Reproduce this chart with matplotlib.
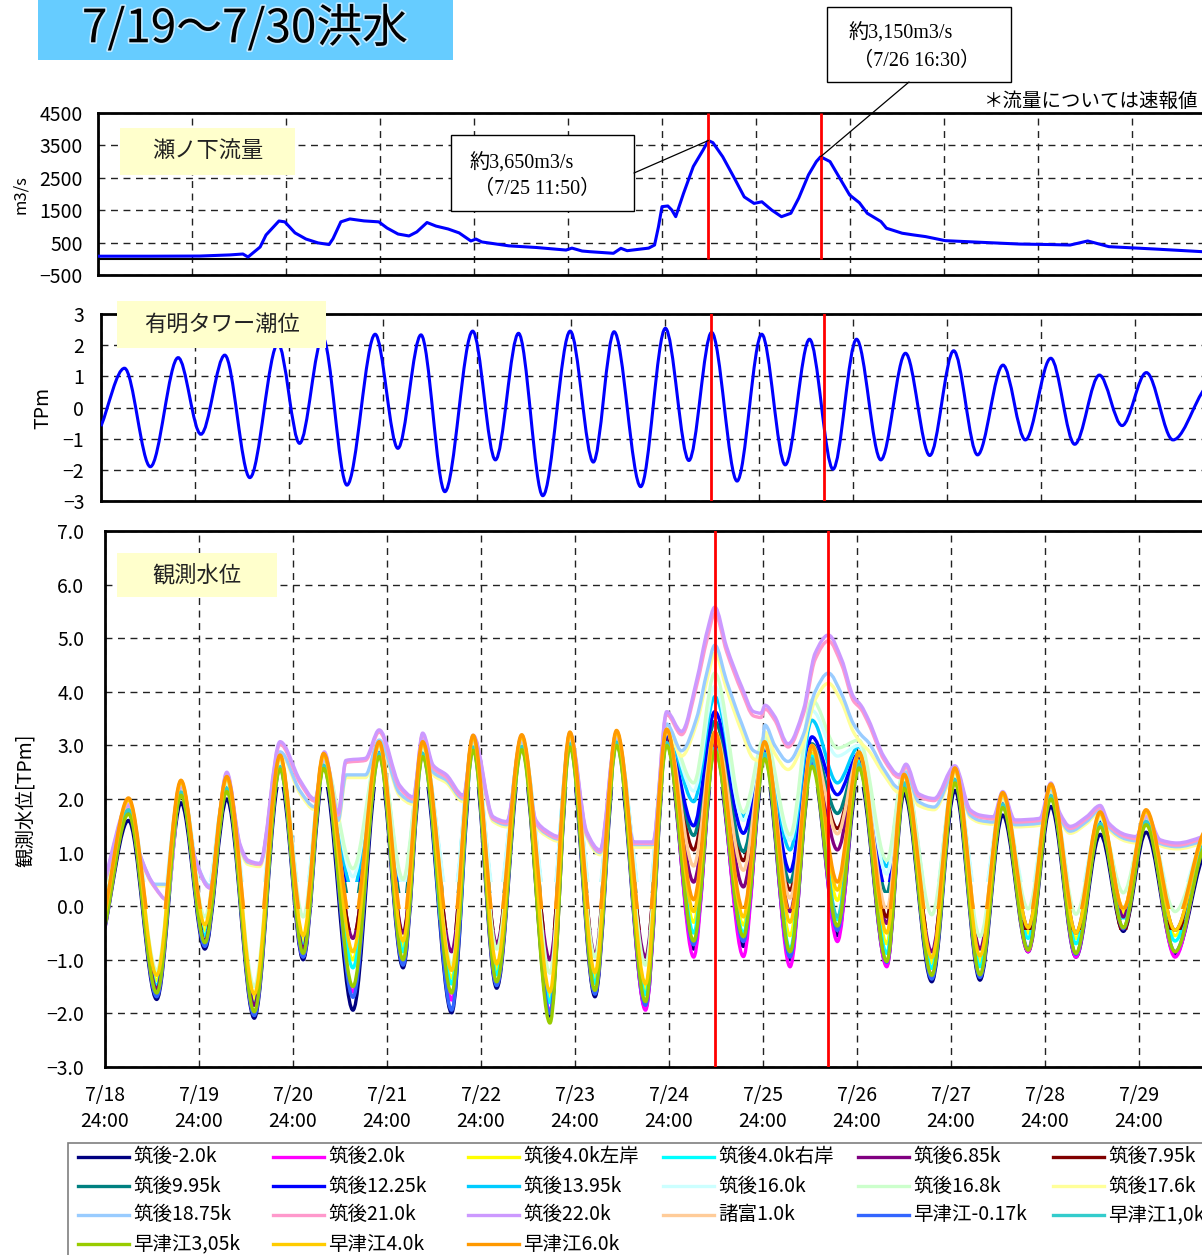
import numpy as np
import matplotlib
matplotlib.use("Agg")
import matplotlib.pyplot as plt
import matplotlib.patheffects as pe
from matplotlib.path import Path
from matplotlib.patches import PathPatch, Rectangle, ConnectionPatch
from matplotlib.lines import Line2D

plt.rcParams['font.family'] = ['Noto Sans CJK JP', 'DejaVu Sans']

# ---------------------------------------------------------------- data
# time axis: hours since 7/19 0:00 (= "7/18 24:00")
day_ticks = [0, 24, 48, 72, 96, 120, 144, 168, 192, 216, 240, 264]
day_labels = ['7/18\n24:00', '7/19\n24:00', '7/20\n24:00', '7/21\n24:00',
              '7/22\n24:00', '7/23\n24:00', '7/24\n24:00', '7/25\n24:00',
              '7/26\n24:00', '7/27\n24:00', '7/28\n24:00', '7/29\n24:00']

# peak flow times (hours) and values
peak_hours = [155.83, 184.5]
peak_flows = [3650, 3150]

# 瀬ノ下流量 (m3/s)
flow_hours = [0, 13.3, 26.0, 33.7, 37.0, 38.3, 41.4, 42.9, 46.2, 47.7,
              50.3, 53.1, 56.2, 59.0, 60.0, 62.0, 64.3, 67.9, 71.7, 73.8,
              76.6, 79.4, 81.4, 84.0, 86.3, 89.4, 92.2, 95.2, 96.5, 98.0,
              104.9, 111.8, 119.5, 121.0, 123.6, 125.6, 131.6, 133.5, 135.1, 140.6,
              142.1, 143.1, 144.0, 145.5, 146.5, 147.5, 149.5, 152.0, 154.5, 155.83,
              157.0, 159.5, 162.5, 165.0, 167.5, 169.5, 172.0, 174.5, 176.9, 178.9,
              181.4, 183.4, 184.5, 186.9, 189.4, 191.9, 194.4, 196.4, 199.9, 201.3,
              205.3, 208.3, 211.3, 216.3, 225.3, 235.3, 243.1, 248.2, 252.7, 258.1,
              270.1, 281.9, 289.0]
flow_values = [80, 80, 85, 120, 148, 55, 365, 735, 1167, 1140,
               800, 610, 490, 440, 620, 1140, 1230, 1170, 1140, 950,
               765, 705, 830, 1120, 1010, 920, 800, 550, 610, 520,
               400, 350, 270, 330, 240, 219, 170, 324, 250, 330,
               425, 990, 1610, 1630, 1506, 1300, 2020, 2850, 3360, 3650,
               3585, 3150, 2485, 1910, 1710, 1760, 1505, 1300, 1405, 1870,
               2590, 3000, 3150, 3000, 2485, 1970, 1730, 1405, 1150, 945,
               790, 735, 685, 560, 510, 455, 440, 425, 550, 375,
               300, 220, 200]

# 有明タワー潮位 (TPm): high / low water
tide_hours = [0.0, 6.0, 12.6, 19.7, 25.5, 31.6, 38.0, 45.2, 50.7, 56.6,
              62.8, 70.0, 75.8, 81.7, 87.8, 94.9, 100.7, 106.6, 112.8, 119.8,
              125.7, 131.0, 137.8, 144.1, 150.1, 155.9, 162.4, 168.7, 174.7, 180.9,
              186.9, 192.9, 199.1, 205.4, 211.6, 217.7, 223.8, 230.3, 236.0, 242.5,
              248.6, 254.9, 260.7, 266.9, 273.7, 283.5, 289.0]
tide_levels = [-0.60, 1.26, -1.90, 1.60, -0.86, 1.68, -2.25, 2.05, -1.15, 2.25,
               -2.49, 2.35, -1.31, 2.33, -2.70, 2.45, -1.68, 2.38, -2.83, 2.45,
               -1.75, 2.43, -2.54, 2.54, -1.70, 2.41, -2.36, 2.35, -1.84, 2.19,
               -1.98, 2.19, -1.68, 1.74, -1.54, 1.82, -1.52, 1.36, -1.04, 1.58,
               -1.18, 1.04, -0.58, 1.12, -1.04, 0.75, -0.30]

# 観測水位 (TPm) at high / low water of the lower river
tb_hours = [0.0, 6.0, 13.2, 19.4, 25.5, 31.1, 38.1, 44.7, 50.6, 55.8,
            63.3, 70.0, 76.1, 81.1, 88.5, 94.0, 100.0, 106.4, 113.6, 118.7,
            125.1, 130.6, 138.0, 143.4, 150.3, 155.7, 163.0, 168.4, 174.9, 180.5,
            187.0, 192.5, 199.6, 204.0, 211.1, 217.0, 223.4, 229.2, 235.7, 241.5,
            247.9, 254.1, 260.0, 265.8, 273.2, 281.5, 288.0]

chikugo_m2_0 = [-0.38, 1.60, -1.74, 1.93, -0.80, 2.00, -2.09, 2.40, -1.00, 2.43,
                -1.94, 2.65, -1.15, 2.65, -1.99, 2.77, -1.53, 2.78, -2.05, 2.83,
                -1.69, 2.86, -1.90, 2.90, -0.80, 2.80, -0.75, 2.65, -1.00, 2.60,
                -0.55, 2.45, -1.10, 2.10, -1.41, 2.16, -1.38, 1.70, -0.85, 1.86,
                -0.95, 1.34, -0.47, 1.38, -0.90, 1.03, -0.30]
chikugo_2_0 = [-0.41, 1.87, -1.66, 2.20, -0.72, 2.27, -2.01, 2.67, -0.94, 2.70,
               -1.60, 2.92, -1.05, 2.92, -1.75, 3.04, -1.45, 3.05, -1.97, 3.10,
               -1.61, 3.13, -1.94, 3.10, -0.95, 3.00, -0.94, 2.90, -1.13, 2.85,
               -0.66, 2.70, -1.13, 2.35, -1.29, 2.43, -1.30, 1.97, -0.85, 2.13,
               -0.95, 1.61, -0.42, 1.65, -0.95, 1.30, -0.25]
chikugo_4_0L = [-0.25, 1.90, -1.39, 2.23, -0.45, 2.30, -1.74, 2.70, -0.65, 2.73,
                -1.00, 2.95, -0.75, 2.95, -1.34, 3.07, -1.18, 3.08, -1.70, 3.13,
                -1.34, 3.16, -1.55, 3.15, -0.30, 3.05, -0.35, 2.90, -0.55, 2.85,
                0.11, 2.75, -0.70, 2.35, -1.06, 2.46, -1.03, 2.00, -0.50, 2.16,
                -0.60, 1.64, -0.12, 1.68, -0.55, 1.33, 0.05]
chikugo_4_0R = [-0.30, 1.84, -1.49, 2.17, -0.55, 2.24, -1.84, 2.64, -0.75, 2.67,
                -1.15, 2.89, -0.85, 2.89, -1.45, 3.01, -1.28, 3.02, -1.80, 3.07,
                -1.44, 3.10, -1.65, 3.10, -0.50, 3.00, -0.50, 2.90, -0.80, 2.80,
                -0.25, 2.70, -0.88, 2.30, -1.16, 2.40, -1.13, 1.94, -0.60, 2.10,
                -0.70, 1.58, -0.22, 1.62, -0.65, 1.27, -0.05]
chikugo_6_85 = [-0.20, 1.92, -1.55, 2.25, -0.65, 2.32, -1.85, 2.72, -0.80, 2.75,
                -0.60, 2.97, -0.50, 2.97, -0.85, 3.09, -0.70, 3.10, -1.00, 3.15,
                -0.90, 3.18, -0.95, 3.15, 0.45, 3.10, 0.36, 2.95, -0.10, 2.95,
                1.05, 2.80, -0.32, 2.40, -0.85, 2.48, -0.80, 2.02, -0.40, 2.18,
                -0.50, 1.66, -0.20, 1.70, -0.45, 1.35, 0.00]
chikugo_7_95 = [-0.20, 1.92, -1.45, 2.25, -0.65, 2.32, -1.75, 2.72, -0.80, 2.75,
                -0.60, 2.97, -0.55, 2.97, -0.85, 3.09, -0.70, 3.10, -1.00, 3.15,
                -0.90, 3.18, -0.95, 3.20, 1.05, 3.20, 0.85, 2.95, 0.30, 3.00,
                1.45, 2.85, -0.20, 2.45, -0.85, 2.48, -0.80, 2.02, -0.50, 2.18,
                -0.60, 1.66, -0.50, 1.70, -0.55, 1.35, -0.10]
chikugo_9_95 = [0.00, 1.87, -1.20, 2.20, -0.40, 2.27, -1.50, 2.67, -0.50, 2.70,
                -0.10, 2.92, 0.00, 2.92, -0.60, 3.04, -0.50, 3.05, -0.80, 3.10,
                -0.70, 3.13, -0.75, 3.20, 1.32, 3.45, 1.02, 2.95, 0.45, 3.03,
                1.73, 2.82, 0.24, 2.45, -0.60, 2.43, -0.60, 1.97, -0.30, 2.13,
                -0.40, 1.61, -0.30, 1.65, -0.40, 1.30, -0.10]
chikugo_12_25 = [0.20, 1.87, -1.00, 2.20, -0.20, 2.27, -1.30, 2.67, -0.30, 2.70,
                 0.10, 2.92, 0.20, 2.92, -0.40, 3.04, -0.30, 3.05, -0.60, 3.10,
                 -0.50, 3.13, -0.55, 3.20, 1.50, 3.63, 1.36, 2.88, 0.65, 3.16,
                 2.08, 2.85, 0.30, 2.45, -0.40, 2.43, -0.40, 1.97, -0.10, 2.13,
                 -0.20, 1.61, -0.10, 1.65, -0.20, 1.30, 0.00]
chikugo_13_95 = [0.30, 1.90, -0.80, 2.23, 0.00, 2.30, -1.00, 2.70, -0.10, 2.73,
                 0.30, 2.95, 0.35, 2.95, -0.20, 3.07, -0.10, 3.08, -0.40, 3.13,
                 -0.30, 3.16, -0.35, 3.25, 1.95, 3.91, 1.67, 3.00, 1.05, 3.47,
                 2.30, 2.98, 0.74, 2.50, -0.20, 2.46, -0.20, 2.00, 0.00, 2.16,
                 -0.10, 1.64, 0.10, 1.68, -0.10, 1.33, 0.10]
chikugo_16_0 = [0.35, 1.92, -0.60, 2.25, 0.10, 2.32, -0.80, 2.72, 0.00, 2.75,
                0.55, 2.97, 0.40, 2.97, -0.10, 3.09, 0.00, 3.10, -0.30, 3.15,
                -0.20, 3.18, -0.25, 3.30, 2.15, 4.10, 1.60, 3.10, 1.23, 3.65,
                2.80, 3.00, 0.60, 2.50, -0.10, 2.48, -0.10, 2.02, 0.10, 2.18,
                0.00, 1.66, 0.20, 1.70, 0.00, 1.35, 0.20]
chikugo_16_8 = [0.00, 1.90, -1.20, 2.23, -0.20, 2.30, -1.50, 2.70, -0.20, 2.73,
                0.70, 2.95, 0.50, 2.95, -1.10, 3.07, -0.80, 3.08, -1.25, 3.13,
                -0.95, 3.16, -1.10, 3.35, 2.30, 4.35, 1.75, 3.16, 1.33, 3.85,
                2.95, 3.10, 0.85, 2.55, -0.16, 2.46, -0.57, 2.00, -0.05, 2.16,
                -0.15, 1.64, 0.25, 1.68, -0.10, 1.33, 0.30]
morodomi_1_0 = [-0.07, 1.97, -1.00, 2.30, -0.30, 2.37, -1.30, 2.77, -0.40, 2.80,
                -0.40, 3.02, -0.30, 3.02, -0.70, 3.14, -0.60, 3.15, -0.90, 3.20,
                -0.80, 3.23, -0.85, 3.25, 0.75, 3.25, 0.67, 3.00, 0.15, 3.00,
                1.35, 2.85, -0.07, 2.45, -0.66, 2.53, -0.63, 2.07, -0.30, 2.23,
                -0.35, 1.71, -0.05, 1.75, -0.30, 1.40, 0.20]
hayatsue_m0_17 = [-0.40, 1.77, -1.69, 2.10, -0.75, 2.17, -2.04, 2.57, -0.95, 2.60,
                  -1.70, 2.82, -1.10, 2.82, -1.94, 2.94, -1.48, 2.95, -2.00, 3.00,
                  -1.64, 3.03, -1.85, 3.05, -0.72, 2.95, -0.66, 2.80, -0.95, 2.70,
                  -0.45, 2.60, -1.05, 2.25, -1.36, 2.33, -1.33, 1.87, -0.80, 2.03,
                  -0.90, 1.51, -0.42, 1.55, -0.85, 1.20, -0.25]
hayatsue_1_0 = [-0.25, 1.80, -1.62, 2.13, -0.68, 2.20, -1.97, 2.60, -0.88, 2.63,
                -1.40, 2.85, -0.95, 2.85, -1.87, 2.97, -1.41, 2.98, -1.93, 3.03,
                -1.57, 3.06, -1.78, 3.05, -0.60, 2.95, -0.55, 2.85, -0.75, 2.75,
                -0.20, 2.65, -0.90, 2.30, -1.29, 2.36, -1.26, 1.90, -0.73, 2.06,
                -0.83, 1.54, -0.35, 1.58, -0.78, 1.23, -0.18]
hayatsue_3_05 = [-0.37, 1.72, -1.62, 2.07, -0.68, 2.14, -1.97, 2.56, -0.88, 2.57,
                 -1.50, 2.79, -1.00, 2.79, -1.62, 2.91, -1.41, 2.92, -2.18, 2.97,
                 -1.57, 3.00, -1.78, 3.00, -0.65, 2.90, -0.57, 2.75, -0.85, 2.61,
                 -0.37, 2.58, -1.03, 2.20, -1.29, 2.30, -1.28, 1.84, -0.82, 2.00,
                 -0.88, 1.48, -0.40, 1.52, -0.85, 1.17, -0.22]
hayatsue_4_0 = [-0.15, 1.99, -1.29, 2.32, -0.35, 2.39, -1.64, 2.79, -0.55, 2.82,
                -0.85, 3.04, -0.65, 3.04, -1.20, 3.16, -1.08, 3.17, -1.60, 3.22,
                -1.24, 3.25, -1.45, 3.30, -0.10, 3.20, -0.20, 3.05, -0.30, 2.95,
                0.30, 2.85, -0.50, 2.45, -0.96, 2.55, -0.93, 2.09, -0.40, 2.25,
                -0.50, 1.73, -0.05, 1.77, -0.45, 1.42, 0.10]
hayatsue_6_0 = [-0.07, 2.02, -1.00, 2.35, -0.30, 2.42, -1.30, 2.82, -0.40, 2.85,
                -0.40, 3.07, -0.30, 3.07, -0.70, 3.19, -0.60, 3.20, -0.90, 3.25,
                -0.80, 3.28, -0.85, 3.30, 0.12, 3.25, -0.07, 3.07, -0.15, 3.00,
                0.45, 2.88, -0.38, 2.46, -0.66, 2.58, -0.63, 2.12, -0.30, 2.28,
                -0.35, 1.76, -0.07, 1.80, -0.30, 1.45, 0.20]

# upper reach stations, sampled at their own turning points
tu_hours = [0.0, 6.0, 9.0, 12.8, 15.8, 19.4, 23.0, 26.8, 31.1, 34.5,
            36.5, 39.5, 44.7, 49.8, 53.6, 56.0, 59.5, 61.5, 66.5, 70.0,
            75.3, 78.7, 81.1, 83.8, 87.2, 91.5, 94.0, 99.1, 102.6, 106.4,
            110.0, 112.5, 115.9, 118.7, 123.0, 126.4, 130.6, 135.0, 139.9, 143.4,
            147.2, 151.0, 153.8, 155.7, 158.7, 162.6, 165.6, 167.5, 168.5, 171.0,
            174.4, 178.3, 181.3, 184.7, 188.1, 191.1, 193.0, 195.0, 198.9, 202.8,
            204.5, 207.7, 211.7, 217.0, 220.9, 223.4, 226.8, 229.2, 232.3, 238.7,
            241.5, 243.8, 246.4, 250.6, 254.1, 256.3, 260.8, 263.3, 265.8, 269.4,
            273.7, 280.2, 288.0]
chikugo_17_6 = [0.40, 1.82, 0.92, 0.38, 0.38, 2.22, 0.86, 0.35, 2.42, 1.06,
                0.78, 0.74, 2.84, 2.10, 1.80, 2.72, 1.55, 2.40, 2.40, 3.06,
                2.05, 1.90, 3.07, 2.45, 2.30, 1.95, 3.07, 1.58, 1.48, 3.07,
                1.50, 1.32, 1.21, 3.12, 1.29, 0.96, 3.12, 1.10, 1.10, 3.35,
                2.80, 3.40, 4.25, 4.72, 4.05, 3.25, 2.75, 2.70, 3.25, 2.85,
                2.55, 3.05, 3.85, 4.16, 3.80, 3.25, 3.05, 2.90, 2.45, 2.12,
                2.42, 1.88, 1.80, 2.45, 1.66, 1.56, 1.53, 2.01, 1.48, 1.51,
                2.16, 1.61, 1.36, 1.54, 1.76, 1.43, 1.21, 1.18, 1.62, 1.13,
                1.07, 1.18, 1.56]
chikugo_18_75 = [0.45, 1.85, 0.95, 0.41, 0.41, 2.25, 0.90, 0.38, 2.45, 1.10,
                 0.82, 0.78, 2.88, 2.15, 1.85, 2.75, 1.60, 2.45, 2.45, 3.10,
                 2.10, 1.95, 3.10, 2.50, 2.35, 2.00, 3.10, 1.62, 1.52, 3.10,
                 1.55, 1.36, 1.25, 3.15, 1.33, 1.00, 3.15, 1.15, 1.15, 3.40,
                 2.90, 3.50, 4.40, 4.87, 4.20, 3.40, 2.90, 2.85, 3.38, 3.00,
                 2.70, 3.20, 4.00, 4.35, 3.95, 3.40, 3.20, 3.05, 2.55, 2.20,
                 2.50, 1.95, 1.85, 2.50, 1.70, 1.60, 1.57, 2.05, 1.52, 1.55,
                 2.20, 1.65, 1.40, 1.58, 1.80, 1.47, 1.25, 1.22, 1.66, 1.17,
                 1.11, 1.22, 1.60]
chikugo_21_0 = [0.50, 1.85, 0.92, 0.34, 0.12, 2.28, 0.88, 0.34, 2.47, 1.12,
                0.84, 0.78, 3.02, 2.30, 1.96, 2.85, 1.70, 2.68, 2.72, 3.25,
                2.20, 2.00, 3.20, 2.58, 2.40, 2.03, 3.17, 1.63, 1.55, 3.16,
                1.57, 1.38, 1.27, 3.20, 1.35, 1.02, 3.22, 1.17, 1.17, 3.58,
                3.20, 4.10, 5.00, 5.46, 4.75, 4.00, 3.55, 3.52, 3.68, 3.47,
                2.97, 3.58, 4.60, 4.95, 4.50, 3.83, 3.68, 3.40, 2.73, 2.40,
                2.60, 2.05, 1.97, 2.58, 1.76, 1.66, 1.63, 2.10, 1.57, 1.60,
                2.26, 1.70, 1.45, 1.63, 1.84, 1.51, 1.29, 1.26, 1.70, 1.20,
                1.14, 1.27, 1.66]
chikugo_22_0 = [0.53, 1.90, 0.95, 0.36, 0.12, 2.30, 0.90, 0.34, 2.50, 1.15,
                0.86, 0.80, 3.07, 2.35, 2.00, 2.88, 1.74, 2.72, 2.76, 3.29,
                2.25, 2.04, 3.23, 2.63, 2.45, 2.07, 3.19, 1.67, 1.58, 3.19,
                1.61, 1.42, 1.30, 3.23, 1.39, 1.05, 3.25, 1.20, 1.20, 3.63,
                3.26, 4.20, 5.15, 5.58, 4.84, 4.09, 3.63, 3.60, 3.75, 3.54,
                3.03, 3.66, 4.72, 5.06, 4.60, 3.91, 3.75, 3.47, 2.79, 2.45,
                2.65, 2.10, 2.01, 2.62, 1.80, 1.70, 1.67, 2.14, 1.61, 1.64,
                2.30, 1.74, 1.49, 1.67, 1.88, 1.55, 1.33, 1.30, 1.74, 1.24,
                1.18, 1.30, 1.70]

station_names = ['筑後-2.0k', '筑後2.0k', '筑後4.0k左岸', '筑後4.0k右岸', '筑後6.85k', '筑後7.95k',
                 '筑後9.95k', '筑後12.25k', '筑後13.95k', '筑後16.0k', '筑後16.8k', '筑後17.6k',
                 '筑後18.75k', '筑後21.0k', '筑後22.0k', '諸富1.0k', '早津江-0.17k', '早津江1,0k',
                 '早津江3,05k', '早津江4.0k', '早津江6.0k']
station_series = [chikugo_m2_0, chikugo_2_0, chikugo_4_0L, chikugo_4_0R, chikugo_6_85, chikugo_7_95,
                  chikugo_9_95, chikugo_12_25, chikugo_13_95, chikugo_16_0, chikugo_16_8, chikugo_17_6,
                  chikugo_18_75, chikugo_21_0, chikugo_22_0, morodomi_1_0, hayatsue_m0_17, hayatsue_1_0,
                  hayatsue_3_05, hayatsue_4_0, hayatsue_6_0]
# measuring range of gauges that go dry / saturate (TPm)
gauge_range = {'筑後-2.0k': (None, 2.22), '筑後7.95k': (-0.45, None), '筑後9.95k': (0.25, None),
               '筑後12.25k': (0.45, None), '筑後13.95k': (0.45, None), '筑後16.0k': (0.45, None),
               '諸富1.0k': (-0.05, None), '早津江1,0k': (-0.25, None), '早津江6.0k': (-0.05, None)}

station_colors = ['#000080', '#FF00FF', '#FFFF00', '#00FFFF', '#800080', '#800000',
                  '#008080', '#0000FF', '#00CCFF', '#CCFFFF', '#CCFFCC', '#FFFF99',
                  '#99CCFF', '#FF99CC', '#CC99FF', '#FFCC99', '#3366FF', '#33CCCC',
                  '#99CC00', '#FFCC00', '#FF9900']

# ---------------------------------------------------------------- layout helpers
W, H = 1202, 1255
fig = plt.figure(figsize=(W / 100, H / 100), dpi=100)


def rect(x0, y0, x1, y1):
    return [x0 / W, 1 - y1 / H, (x1 - x0) / W, (y1 - y0) / H]


def fx(x):
    return x / W


def fy(y):
    return 1 - y / H


def smooth_path(t, v):
    """Cubic Bezier path through the samples with monotone tangents."""
    t = np.asarray(t, float)
    v = np.asarray(v, float)
    h = np.diff(t)
    d = np.diff(v) / h
    m = np.zeros_like(v)
    m[0], m[-1] = d[0], d[-1]
    for k in range(1, len(v) - 1):
        if d[k - 1] * d[k] > 0:
            w1 = 2 * h[k] + h[k - 1]
            w2 = h[k] + 2 * h[k - 1]
            m[k] = (w1 + w2) / (w1 / d[k - 1] + w2 / d[k])
    verts = [(t[0], v[0])]
    codes = [Path.MOVETO]
    for k in range(len(t) - 1):
        s = h[k] / 3
        verts += [(t[k] + s, v[k] + m[k] * s), (t[k + 1] - s, v[k + 1] - m[k + 1] * s),
                  (t[k + 1], v[k + 1])]
        codes += [Path.CURVE4] * 3
    return Path(verts, codes)


def style_axes(ax, yticks, ylabels, ypad):
    ax.set_xlim(0, 288)
    ax.set_xticks(day_ticks)
    ax.set_yticks(yticks)
    ax.set_yticklabels(ylabels)
    ax.tick_params(axis='both', length=0, labelsize=14)
    ax.tick_params(axis='y', pad=ypad)
    ax.grid(True, color='#222222', lw=1.0, linestyle=(0, (5, 4)))
    for s in ax.spines.values():
        s.set_linewidth(2.0)
        s.set_color('black')


def minus(s):
    return s.replace('-', '\u2212')


# ---------------------------------------------------------------- flow panel
ax_q = fig.add_axes(rect(98, 113, 98 + 1128, 275))
style_axes(ax_q, [-500, 500, 1500, 2500, 3500, 4500],
           [minus(str(v)) for v in [-500, 500, 1500, 2500, 3500, 4500]], 11)
ax_q.set_ylim(-500, 4500)
ax_q.tick_params(axis='x', labelbottom=False)
ax_q.axhline(0, color='black', lw=1.5, zorder=2)
ax_q.plot(flow_hours, flow_values, color='#0000FF', lw=2.2, zorder=3)
ax_q.vlines(peak_hours, 0, 4500, color='#FF0000', lw=2.0, zorder=4)

# ---------------------------------------------------------------- tide panel
ax_t = fig.add_axes(rect(101, 314, 101 + 1128, 501))
style_axes(ax_t, list(range(-3, 4)), [minus(str(v)) for v in range(-3, 4)], 12)
ax_t.set_ylim(-3, 3)
ax_t.tick_params(axis='x', labelbottom=False)
ax_t.add_patch(PathPatch(smooth_path(tide_hours, tide_levels), fill=False,
                         edgecolor='#0000FF', lw=2.2, zorder=3))
for ph in peak_hours:
    ax_t.axvline(ph, color='#FF0000', lw=2.0, zorder=4)

# ---------------------------------------------------------------- water level panel
ax_w = fig.add_axes(rect(105, 531, 105 + 1128, 1067))
style_axes(ax_w, list(range(-3, 8)), [minus(f'{v:.1f}') for v in range(-3, 8)], 15)
ax_w.set_ylim(-3, 7)
ax_w.set_xticklabels(day_labels, linespacing=1.3)
ax_w.tick_params(axis='x', pad=13)

upper = {'筑後17.6k', '筑後18.75k', '筑後21.0k', '筑後22.0k'}
for z, (name, vals, col) in enumerate(zip(station_names, station_series, station_colors)):
    hours = tu_hours if name in upper else tb_hours
    patch = PathPatch(smooth_path(hours, vals), fill=False, edgecolor=col, lw=2.4,
                      capstyle='round', joinstyle='round', zorder=2 + z * 0.01)
    ax_w.add_patch(patch)
    if name in gauge_range:
        lo, hi = gauge_range[name]
        lo = -3 if lo is None else lo
        hi = 7 if hi is None else hi
        clip = Rectangle((0, lo), 288, hi - lo, transform=ax_w.transData)
        patch.set_clip_path(clip)
for ph in peak_hours:
    ax_w.axvline(ph, color='#FF0000', lw=2.0, zorder=4)

# ---------------------------------------------------------------- labels and boxes
fig.text(fx(21), fy(195), 'm3/s', rotation=90, ha='center', va='center', fontsize=12)
fig.text(fx(43), fy(408), 'TPm', rotation=90, ha='center', va='center', fontsize=14)
fig.text(fx(25), fy(800), '観測水位[TPm]', rotation=90, ha='center', va='center', fontsize=14)

for (x0, y0, x1, y1), label in [((120, 128, 295, 175), '瀬ノ下流量'),
                                ((117, 301, 326, 348), '有明タワー潮位'),
                                ((117, 553, 277, 597), '観測水位')]:
    fig.add_artist(Rectangle((fx(x0), fy(y1)), (x1 - x0) / W, (y1 - y0) / H,
                             transform=fig.transFigure, facecolor='#FFFFCC',
                             edgecolor='none', zorder=5))
    fig.text(fx((x0 + x1) / 2), fy((y0 + y1) / 2), label, ha='center', va='center',
             fontsize=16, color='#222222', zorder=6)

# title
fig.add_artist(Rectangle((fx(38), fy(60)), 415 / W, 60 / H, transform=fig.transFigure,
                         facecolor='#66CCFF', edgecolor='none', zorder=5))
fig.text(fx(245), fy(29), '7/19～7/30洪水', ha='center', va='center', fontsize=33,
         color='black', zorder=6,
         path_effects=[pe.withStroke(linewidth=2.5, foreground='#E8F6FF', alpha=0.7)])

fig.text(fx(1198), fy(101), '＊流量については速報値', ha='right', va='center', fontsize=14)

# peak annotations
serif = ['Liberation Serif', 'Noto Sans CJK JP']
notes = [((451, 135, 634, 211), (634, 173), ('約3,650m3/s', '（7/25 11:50）'), (470, 474), (163, 189)),
         ((827, 7, 1011, 82), (909, 82), ('約3,150m3/s', '（7/26 16:30）'), (849, 853), (33, 61))]
for k, ((x0, y0, x1, y1), anchor, lines, xs, ys) in enumerate(notes):
    fig.add_artist(Rectangle((fx(x0), fy(y1)), (x1 - x0) / W, (y1 - y0) / H,
                             transform=fig.transFigure, facecolor='white',
                             edgecolor='black', lw=1.0, zorder=5))
    for txt, tx, ty in zip(lines, xs, ys):
        fig.text(fx(tx), fy(ty), txt, ha='left', va='center', fontsize=14.5,
                 family=serif, zorder=6)
    con = ConnectionPatch(xyA=(fx(anchor[0]), fy(anchor[1])), coordsA='figure fraction',
                          xyB=(peak_hours[k], peak_flows[k]), coordsB='data', axesB=ax_q,
                          color='black', lw=0.9, zorder=6)
    fig.add_artist(con)

# legend
fig.add_artist(Rectangle((fx(68), fy(1300)), (1300 - 68) / W, (1300 - 1143) / H,
                         transform=fig.transFigure, facecolor='white',
                         edgecolor='#7F7F7F', lw=1.2, zorder=5))
for k, (name, col) in enumerate(zip(station_names, station_colors)):
    r, c = divmod(k, 6)
    x0 = 78 + 195 * c
    y = 1157 + 29 * r
    fig.add_artist(Line2D([fx(x0), fx(x0 + 51)], [fy(y), fy(y)], color=col, lw=2.4,
                          transform=fig.transFigure, zorder=6))
    fig.text(fx(x0 + 55), fy(y), name, ha='left', va='center', fontsize=14, zorder=6)

fig.savefig('out.png', dpi=100)
